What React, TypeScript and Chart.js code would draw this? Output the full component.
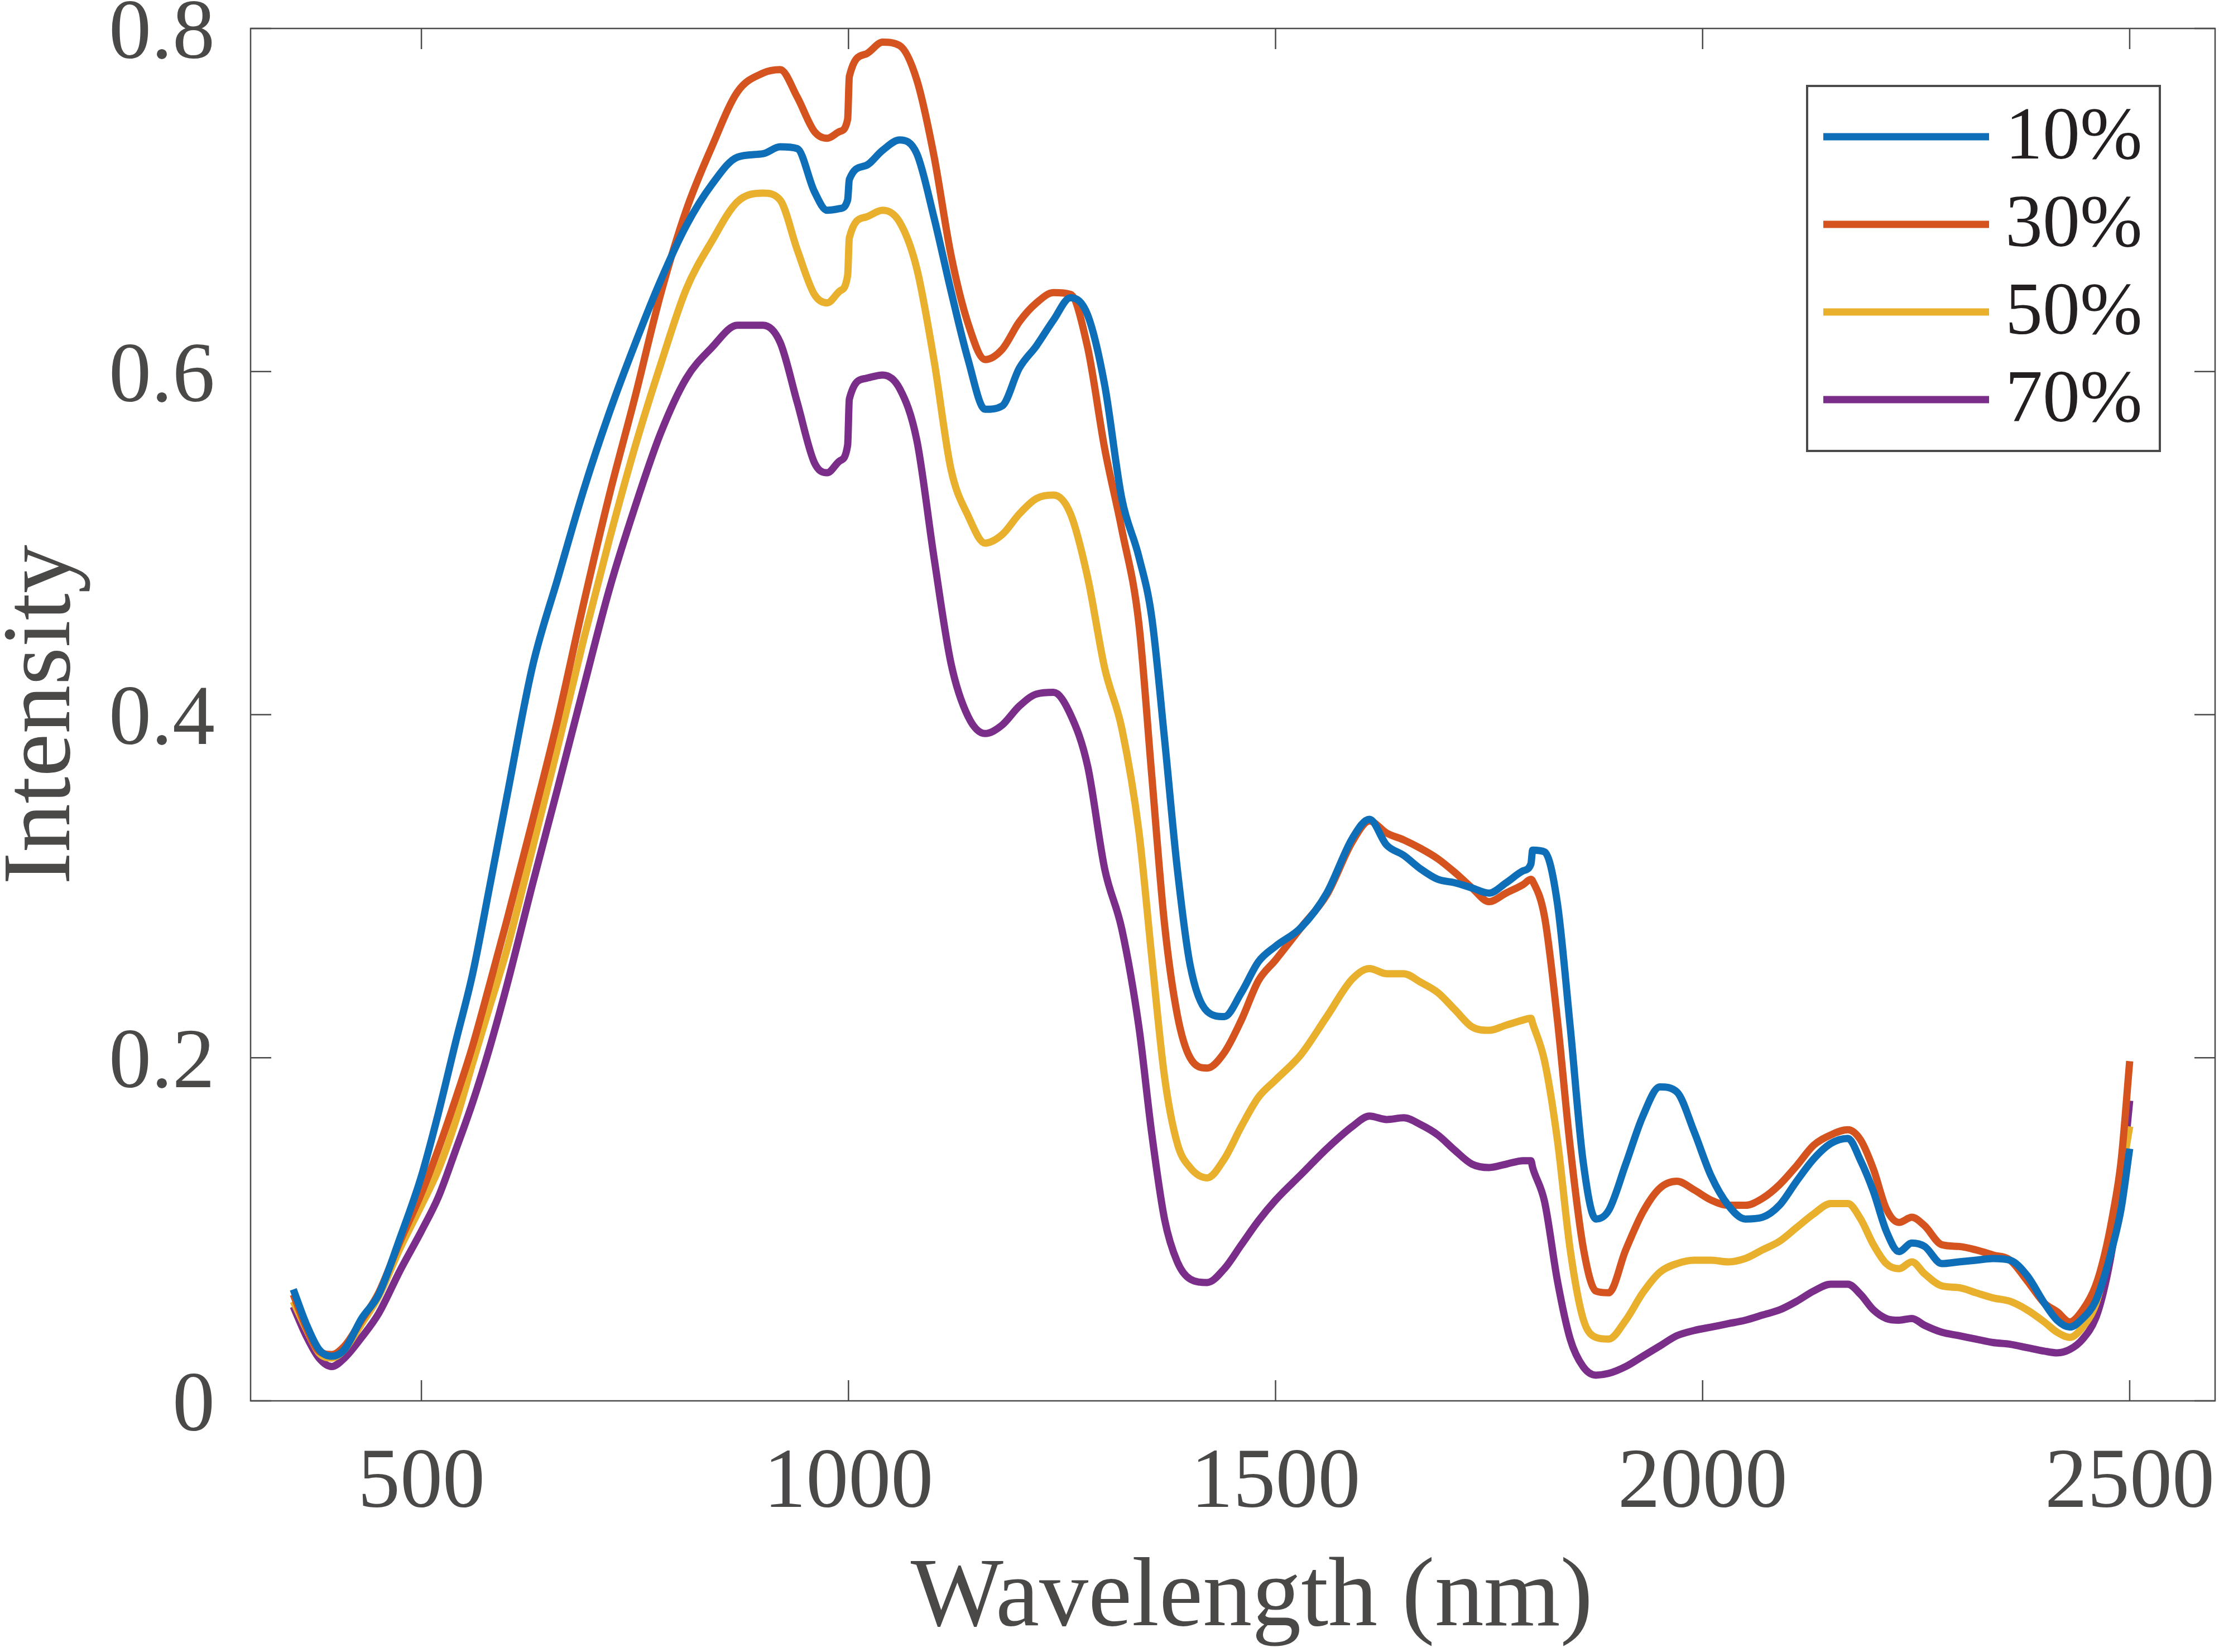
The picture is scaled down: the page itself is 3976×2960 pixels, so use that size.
import React, { useEffect, useRef } from 'react';
import { Chart, ChartConfiguration, Plugin, registerables } from 'chart.js';

Chart.register(...registerables);

// wavelength grid (nm); 999/1001 and 1799/1801 carry the detector splice steps
const wavelengths = [
  350, 365, 380, 395, 410, 430, 450, 475, 500,
  520, 540, 560, 580, 600, 630, 660, 690,
  720, 750, 780, 810, 840, 870, 900, 920,
  940, 960, 975, 990, 999, 1001, 1020, 1040,
  1060, 1080, 1100, 1120, 1140, 1160, 1180, 1200,
  1220, 1240, 1260, 1280, 1300, 1320, 1340, 1355,
  1370, 1385, 1400, 1420, 1440, 1460, 1480, 1500,
  1530, 1560, 1590, 1610, 1630, 1650, 1670, 1690,
  1710, 1730, 1750, 1770, 1790, 1799, 1801, 1815,
  1830, 1845, 1860, 1875, 1890, 1910, 1930, 1950,
  1970, 1990, 2010, 2030, 2050, 2070, 2090, 2110,
  2130, 2150, 2170, 2185, 2200, 2215, 2230, 2245,
  2260, 2280, 2300, 2320, 2340, 2360, 2380, 2400,
  2415, 2430, 2445, 2460, 2470, 2480, 2490, 2500
];

const intensity10 = [
  0.065, 0.045, 0.030, 0.026, 0.030, 0.048, 0.062, 0.095, 0.131,
  0.168, 0.209, 0.249, 0.300, 0.352, 0.428, 0.480, 0.531,
  0.576, 0.616, 0.653, 0.685, 0.709, 0.725, 0.727, 0.731,
  0.730, 0.705, 0.694, 0.695, 0.700, 0.712, 0.720, 0.729,
  0.735, 0.727, 0.690, 0.647, 0.607, 0.578, 0.580, 0.602,
  0.615, 0.630, 0.643, 0.633, 0.592, 0.526, 0.492, 0.457,
  0.386, 0.310, 0.254, 0.227, 0.224, 0.238, 0.256, 0.265,
  0.276, 0.296, 0.328, 0.339, 0.324, 0.318, 0.310, 0.304,
  0.302, 0.299, 0.296, 0.302, 0.309, 0.313, 0.321, 0.320,
  0.290, 0.218, 0.140, 0.106, 0.111, 0.138, 0.166, 0.183,
  0.180, 0.157, 0.131, 0.114, 0.106, 0.107, 0.114, 0.128,
  0.141, 0.150, 0.153, 0.140, 0.122, 0.099, 0.087, 0.092,
  0.090, 0.080, 0.081, 0.082, 0.083, 0.082, 0.073, 0.057,
  0.047, 0.043, 0.048, 0.058, 0.072, 0.090, 0.112, 0.147
];

const intensity30 = [
  0.062, 0.043, 0.029, 0.027, 0.032, 0.047, 0.063, 0.093, 0.121,
  0.147, 0.176, 0.207, 0.243, 0.280, 0.338, 0.398, 0.465,
  0.528, 0.585, 0.645, 0.694, 0.731, 0.763, 0.774, 0.776,
  0.760, 0.740, 0.736, 0.740, 0.747, 0.772, 0.785, 0.792,
  0.790, 0.770, 0.726, 0.668, 0.628, 0.607, 0.613, 0.629,
  0.640, 0.646, 0.645, 0.614, 0.555, 0.508, 0.453, 0.365,
  0.278, 0.225, 0.200, 0.194, 0.203, 0.222, 0.245, 0.257,
  0.276, 0.295, 0.326, 0.338, 0.331, 0.327, 0.322, 0.316,
  0.308, 0.299, 0.291, 0.296, 0.301, 0.304, 0.303, 0.282,
  0.222, 0.148, 0.090, 0.064, 0.063, 0.088, 0.110, 0.124,
  0.128, 0.123, 0.117, 0.114, 0.114, 0.118, 0.126, 0.137,
  0.149, 0.155, 0.158, 0.152, 0.135, 0.112, 0.104, 0.107,
  0.102, 0.091, 0.090, 0.088, 0.085, 0.082, 0.070, 0.057,
  0.052, 0.046, 0.053, 0.067, 0.084, 0.108, 0.140, 0.198
];

const intensity50 = [
  0.058, 0.042, 0.028, 0.025, 0.030, 0.045, 0.061, 0.089, 0.114,
  0.135, 0.163, 0.197, 0.230, 0.263, 0.322, 0.382, 0.444,
  0.502, 0.556, 0.604, 0.648, 0.676, 0.699, 0.704, 0.700,
  0.671, 0.645, 0.640, 0.647, 0.656, 0.678, 0.690, 0.694,
  0.687, 0.660, 0.607, 0.543, 0.516, 0.500, 0.505, 0.517,
  0.526, 0.528, 0.517, 0.480, 0.427, 0.392, 0.332, 0.259,
  0.189, 0.150, 0.136, 0.130, 0.141, 0.160, 0.177, 0.187,
  0.202, 0.224, 0.246, 0.252, 0.249, 0.249, 0.244, 0.238,
  0.228, 0.218, 0.216, 0.219, 0.222, 0.223, 0.220, 0.198,
  0.152, 0.088, 0.048, 0.037, 0.036, 0.047, 0.063, 0.075,
  0.080, 0.082, 0.082, 0.081, 0.083, 0.088, 0.093, 0.101,
  0.109, 0.115, 0.115, 0.106, 0.091, 0.080, 0.077, 0.081,
  0.074, 0.067, 0.066, 0.063, 0.060, 0.058, 0.053, 0.046,
  0.040, 0.037, 0.043, 0.056, 0.074, 0.098, 0.130, 0.160
];

const intensity70 = [
  0.055, 0.038, 0.025, 0.020, 0.025, 0.037, 0.051, 0.076, 0.099,
  0.119, 0.146, 0.174, 0.206, 0.242, 0.301, 0.358, 0.416,
  0.473, 0.521, 0.564, 0.596, 0.614, 0.627, 0.627, 0.617,
  0.582, 0.547, 0.541, 0.548, 0.557, 0.584, 0.596, 0.598,
  0.590, 0.560, 0.492, 0.430, 0.399, 0.389, 0.394, 0.405,
  0.412, 0.413, 0.400, 0.370, 0.310, 0.275, 0.218, 0.156,
  0.106, 0.081, 0.071, 0.069, 0.077, 0.091, 0.105, 0.117,
  0.132, 0.147, 0.160, 0.166, 0.164, 0.165, 0.161, 0.155,
  0.146, 0.138, 0.136, 0.138, 0.140, 0.140, 0.136, 0.116,
  0.070, 0.036, 0.020, 0.015, 0.016, 0.020, 0.026, 0.032,
  0.038, 0.041, 0.043, 0.045, 0.047, 0.050, 0.053, 0.058,
  0.064, 0.068, 0.068, 0.062, 0.053, 0.048, 0.047, 0.048,
  0.044, 0.040, 0.038, 0.036, 0.034, 0.033, 0.031, 0.029,
  0.028, 0.030, 0.036, 0.048, 0.065, 0.090, 0.125, 0.175
];

const seriesLabels = ['10%', '30%', '50%', '70%'];
const seriesValues = [intensity10, intensity30, intensity50, intensity70];
const seriesColors = ['#0E6EB8', '#D4531F', '#E8B02C', '#7B2D8A'];

const xTicks = [500, 1000, 1500, 2000, 2500];
const yTicks = [0, 0.2, 0.4, 0.6, 0.8];
const xTitle = 'Wavelength (nm)';
const yTitle = 'Intensity';

const FONT = '"Liberation Serif", "Times New Roman", serif';
const AXIS_COLOR = '#4a4a4a';
const LABEL_COLOR = '#4b4848';

const W = 3976;
const H = 2960;

// box on, ticks pointing inward on all four sides
const framePlugin: Plugin<'line'> = {
  id: 'matlabFrame',
  beforeDatasetsDraw(chart) {
    const { ctx, chartArea: a, scales } = chart;
    const len = 37;
    ctx.save();
    ctx.strokeStyle = AXIS_COLOR;
    ctx.lineWidth = 2.5;
    ctx.strokeRect(a.left, a.top, a.right - a.left, a.bottom - a.top);
    ctx.beginPath();
    xTicks.forEach(v => {
      const px = scales.x.getPixelForValue(v);
      ctx.moveTo(px, a.bottom);
      ctx.lineTo(px, a.bottom - len);
      ctx.moveTo(px, a.top);
      ctx.lineTo(px, a.top + len);
    });
    yTicks.forEach(v => {
      const py = scales.y.getPixelForValue(v);
      ctx.moveTo(a.left, py);
      ctx.lineTo(a.left + len, py);
      ctx.moveTo(a.right, py);
      ctx.lineTo(a.right - len, py);
    });
    ctx.stroke();

    // x axis title, centred a little right of the plot middle as in the source
    ctx.fillStyle = LABEL_COLOR;
    ctx.font = `176px ${FONT}`;
    ctx.textAlign = 'center';
    ctx.textBaseline = 'middle';
    ctx.fillText(xTitle, (a.left + a.right) / 2 + 34, 2866);
    ctx.restore();
  }
};

const legendPlugin: Plugin<'line'> = {
  id: 'boxLegend',
  afterDatasetsDraw(chart) {
    const { ctx, chartArea: a } = chart;
    const boxW = 632;
    const boxH = 654;
    const left = a.right - 99 - boxW;
    const top = a.top + 103;
    ctx.save();
    ctx.fillStyle = '#ffffff';
    ctx.fillRect(left, top, boxW, boxH);
    ctx.strokeStyle = AXIS_COLOR;
    ctx.lineWidth = 4;
    ctx.strokeRect(left, top, boxW, boxH);
    ctx.font = `134px ${FONT}`;
    ctx.textBaseline = 'middle';
    ctx.textAlign = 'left';
    chart.data.datasets.forEach((ds, i) => {
      const y = top + 91 + i * 157;
      ctx.strokeStyle = ds.borderColor as string;
      ctx.lineWidth = 13;
      ctx.beginPath();
      ctx.moveTo(left + 29, y);
      ctx.lineTo(left + 326, y);
      ctx.stroke();
      ctx.fillStyle = '#231f20';
      ctx.fillText(ds.label ?? '', left + 355, y + 4);
    });
    ctx.restore();
  }
};

export default function App() {
  const canvasRef = useRef<HTMLCanvasElement>(null);

  useEffect(() => {
    if (!canvasRef.current) return;

    const datasets = seriesLabels.map((label, i) => ({
      label,
      data: wavelengths.map((x, j) => ({ x, y: seriesValues[i][j] })),
      borderColor: seriesColors[i],
      backgroundColor: seriesColors[i],
      borderWidth: 13,
      pointRadius: 0,
      fill: false,
      cubicInterpolationMode: 'monotone' as const,
      borderJoinStyle: 'round' as const
    }));

    const config: ChartConfiguration<'line'> = {
      type: 'line',
      data: { datasets },
      options: {
        responsive: false,
        animation: false,
        devicePixelRatio: 1,
        layout: { padding: { left: 0, right: 7, top: 51, bottom: 0 } },
        plugins: {
          legend: { display: false },
          tooltip: { enabled: false }
        },
        scales: {
          x: {
            type: 'linear',
            min: 300,
            max: 2600,
            afterBuildTicks: scale => {
              scale.ticks = xTicks.map(value => ({ value }));
            },
            afterFit: scale => {
              scale.height = 450;
              scale.paddingLeft = 0;
              scale.paddingRight = 0;
            },
            grid: { display: false, drawTicks: false },
            border: { display: false },
            ticks: {
              autoSkip: false,
              maxRotation: 0,
              padding: 59,
              color: LABEL_COLOR,
              font: { family: FONT, size: 152 },
              callback: v => String(v)
            },
            title: { display: false }
          },
          y: {
            type: 'linear',
            min: 0,
            max: 0.8,
            afterBuildTicks: scale => {
              scale.ticks = yTicks.map(value => ({ value }));
            },
            afterFit: scale => {
              scale.width = 449;
              scale.paddingTop = 0;
              scale.paddingBottom = 0;
            },
            grid: { display: false, drawTicks: false },
            border: { display: false },
            ticks: {
              padding: 64,
              labelOffset: 13,
              color: LABEL_COLOR,
              font: { family: FONT, size: 152 },
              callback: v => String(v)
            },
            title: {
              display: true,
              text: yTitle,
              color: LABEL_COLOR,
              font: { family: FONT, size: 174, lineHeight: 0.8 },
              padding: { top: 9, bottom: 0 }
            }
          }
        }
      },
      plugins: [framePlugin, legendPlugin]
    };

    const chart = new Chart(canvasRef.current, config);
    return () => {
      chart.destroy();
    };
  }, []);

  return (
    <div style={{ position: 'absolute', left: 0, top: 0, width: W, height: H, background: '#ffffff' }}>
      <canvas ref={canvasRef} width={W} height={H} style={{ width: W, height: H, display: 'block' }} />
    </div>
  );
}
